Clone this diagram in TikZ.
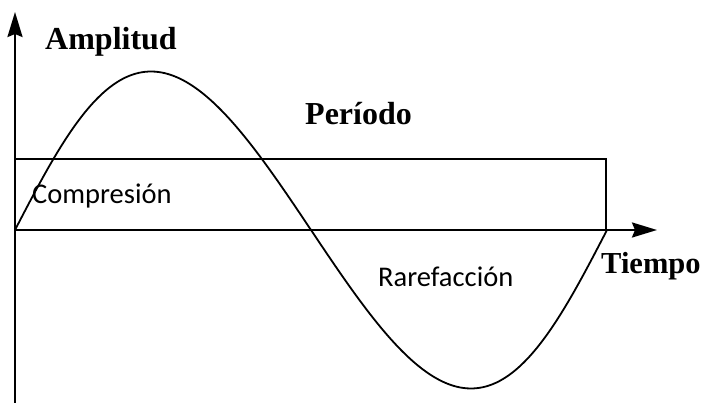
\documentclass[tikz,border=0pt]{standalone}
\usepackage{fontspec}
\setmainfont{Liberation Serif}
\newfontfamily\labelfont{Carlito}
\usetikzlibrary{arrows.meta}

\begin{document}
\begin{tikzpicture}[
  x=1pt, y=1pt,
  axis/.style={line width=2.4pt, -{Stealth[length=25pt,width=15pt,inset=3pt]}},
  band/.style={line width=2.2pt},
  wave/.style={line width=1.8pt},
  title/.style={font=\fontsize{32}{36}\selectfont\bfseries, inner sep=0pt, anchor=base west},
  zone/.style={font=\labelfont\fontsize{28.5}{32}\selectfont, inner sep=0pt, anchor=base west},
]
\useasboundingbox (-15,-173) rectangle (689,230);
% axes
\coordinate (o) at (0,0);
\coordinate (ybot) at (0,-173);
\coordinate (ytop) at (0,218);
\coordinate (xend) at (642,0);
\coordinate (pend) at (591,0);
\coordinate (ptop) at (591,71);
\draw[axis] (ybot) -- (ytop);
\draw[axis] (o) -- (xend);
% period band
\draw[band] (o) |- (ptop) -- (pend);
% one cycle of the wave
\draw[wave] plot[domain=0:360, samples=180, smooth, variable=\t]
  ({1.64444*\t-12*sin(\t)}, {158.5*sin(\t)});
% labels
\node[title] (amp) at (30,180) {Amplitud};
\node[title] (per) at (290,105) {Período};
\node[title, font=\fontsize{30.5}{36}\selectfont\bfseries] (tie) at (586,-44) {Tiempo};
\node[zone] (comp) at (17,26) {Compresión};
\node[zone] (rare) at (363,-57) {Rarefacción};
\end{tikzpicture}
\end{document}
